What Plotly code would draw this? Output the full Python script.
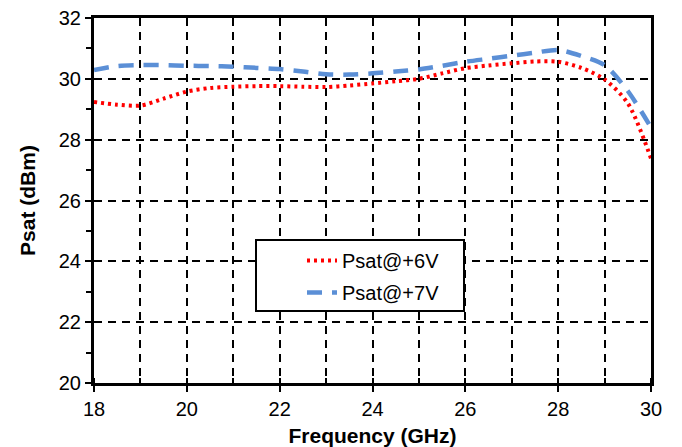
import plotly.graph_objects as go

# Saturated output power vs frequency for two supply voltages
freq_ghz = [18, 18.5, 19, 19.5, 20, 20.5, 21, 21.5, 22, 22.5, 23, 23.5, 24,
            24.5, 25, 25.5, 26, 26.5, 27, 27.5, 28, 28.5, 29, 29.5, 30]
psat_6v = [29.24, 29.15, 29.12, 29.35, 29.58, 29.70, 29.74, 29.76, 29.76, 29.74,
           29.73, 29.78, 29.85, 29.92, 30.00, 30.18, 30.35, 30.44, 30.51, 30.57,
           30.56, 30.36, 29.98, 29.20, 27.38]
psat_7v = [30.29, 30.42, 30.45, 30.45, 30.43, 30.42, 30.40, 30.36, 30.32, 30.24,
           30.15, 30.14, 30.18, 30.24, 30.31, 30.43, 30.56, 30.66, 30.76, 30.86,
           30.95, 30.75, 30.45, 29.60, 28.40]
series_names = ["Psat@+6V", "Psat@+7V"]

FONT = "Liberation Sans, Arial, sans-serif"

fig = go.Figure()
fig.add_trace(go.Scatter(
    x=freq_ghz, y=psat_6v, name=series_names[0], mode="lines",
    line=dict(color="#ff0000", width=4, dash="3px,4px", shape="spline", smoothing=0.8),
    legendgroup="a",
))
fig.add_trace(go.Scatter(
    x=freq_ghz, y=psat_7v, name=series_names[1], mode="lines",
    line=dict(color="#5b8fd6", width=4.5, dash="15px,10px", shape="spline", smoothing=0.8),
    legendgroup="b",
))

# white legend panel with black border
fig.add_shape(type="rect", xref="paper", yref="paper",
              x0=(256 - 94) / 557, x1=(464 - 94) / 557,
              y0=(383 - 311) / 365, y1=(383 - 240) / 365,
              fillcolor="white", line=dict(color="black", width=2), layer="above")

grid_dash = "8px,6px"
fig.update_layout(
    width=682, height=447,
    margin=dict(l=94, r=31, t=18, b=64),
    paper_bgcolor="white", plot_bgcolor="white",
    font=dict(family=FONT, size=20, color="black"),
    showlegend=True,
    legend=dict(
        x=(302 - 94) / 557, y=(383 - 241) / 365, xanchor="left", yanchor="top",
        bgcolor="rgba(0,0,0,0)", borderwidth=0,
        font=dict(family=FONT, size=20, color="black"),
        traceorder="grouped", tracegroupgap=3,
    ),
    xaxis=dict(
        range=[18, 30], dtick=2, tick0=18, automargin=False,
        showline=True, linecolor="black", linewidth=3, mirror=True,
        ticks="outside", ticklen=6, tickwidth=2, tickcolor="black",
        showgrid=True, gridcolor="black", gridwidth=1.5, griddash=grid_dash,
        minor=dict(dtick=1, ticks="inside", ticklen=5, tickwidth=2, tickcolor="black",
                   showgrid=True, gridcolor="black", gridwidth=1.5, griddash=grid_dash),
        zeroline=False,
        title=dict(text="<b>Frequency (GHz)</b>", standoff=10,
                   font=dict(family=FONT, size=21)),
    ),
    yaxis=dict(
        range=[20, 32], dtick=2, tick0=20, automargin=False,
        showline=True, linecolor="black", linewidth=3, mirror=True,
        ticks="outside", ticklen=6, tickwidth=2, tickcolor="black",
        showgrid=True, gridcolor="black", gridwidth=1.5, griddash=grid_dash,
        minor=dict(dtick=1, ticks="outside", ticklen=5, tickwidth=2, tickcolor="black",
                   showgrid=False),
        zeroline=False,
        title=dict(text="<b>Psat (dBm)</b>", standoff=18,
                   font=dict(family=FONT, size=21)),
    ),
)

fig.write_html("out.html")
